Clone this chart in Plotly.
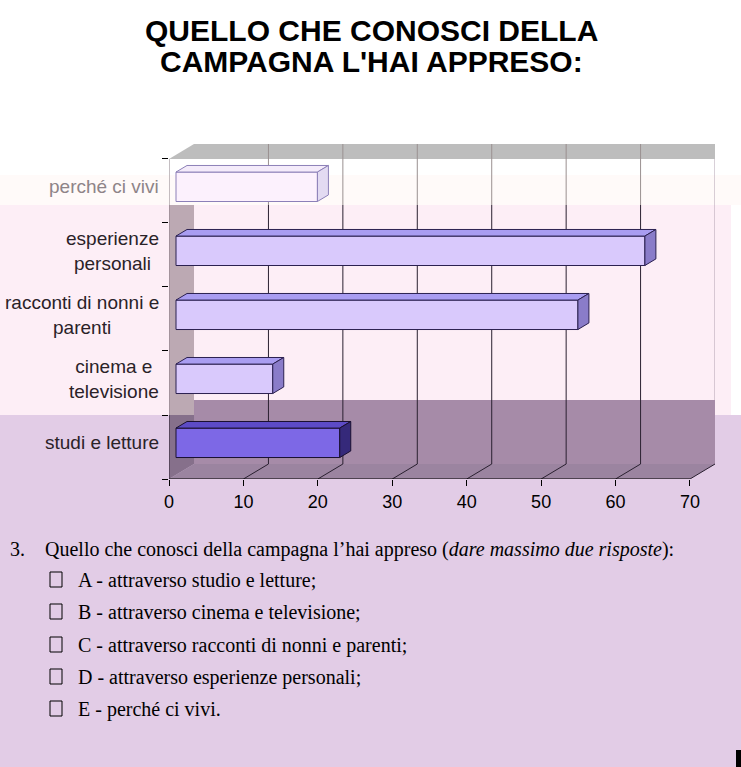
# %% Grafico: "Quello che conosci della campagna l'hai appreso"
import plotly.graph_objects as go

# %% Dati
categorie = ["studi e letture", "cinema e<br>televisione", "racconti di nonni e<br>parenti",
             "esperienze<br>personali", "perché ci vivi"]
valori = [22, 13, 54, 63, 19]
tick_x = [0, 10, 20, 30, 40, 50, 60, 70]

titolo = ["QUELLO CHE CONOSCI DELLA", "CAMPAGNA L'HAI APPRESO:"]
numero_domanda = "3."
domanda = "Quello che conosci della campagna l’hai appreso (<i>dare massimo due risposte</i>):"
risposte = ["A - attraverso studio e letture;",
            "B - attraverso cinema e televisione;",
            "C - attraverso racconti di nonni e parenti;",
            "D - attraverso esperienze personali;",
            "E - perché ci vivi."]

# %% Stile
# colori barre: (frontale, superiore, laterale, bordo)
stile_barre = [
    ("#7d68e6", "#5d4bc6", "#35297a", "#1a1030"),
    ("#d9c9fc", "#a99df1", "#8a7cc9", "#2b2050"),
    ("#d9c9fc", "#a99df1", "#8a7cc9", "#2b2050"),
    ("#d9c9fc", "#a99df1", "#8a7cc9", "#2b2050"),
    ("#fcf1fd", "#f4ebfa", "#e3dbf2", "#8c80b8"),
]
colori_etichette = ["#2a2228", "#2a2228", "#2a2228", "#2a2228", "#8e8488"]

W, H = 741, 767
L, R, T, B = 169, 715, 144, 479      # area del grafico in pixel
XMAX = tick_x[-1]
DX, DY = 3.36, 0.234                 # profondità 3D (unità dati)
F0, BD, HW = 0.28, 0.44, 0.23        # posizione/profondità/semi-altezza barre
n = len(categorie)
Y0, Y1 = -0.5, n - 0.5 + DY

def px(x):
    return (x - L) / (R - L)

def py(y):
    return (B - y) / (B - T)

def dy(p):
    # pixel verticale -> coordinata y dei dati
    return Y0 + (B - p) / (B - T) * (Y1 - Y0)

def rect_paper(x0, y0, x1, y1, colore):
    return dict(type="rect", xref="paper", yref="paper", x0=px(x0), x1=px(x1),
                y0=py(y1), y1=py(y0), fillcolor=colore, line_width=0, layer="below")

def poligono(punti, colore):
    path = "M " + " L ".join(f"{x},{y}" for x, y in punti) + " Z"
    return dict(type="path", xref="x", yref="y", path=path, fillcolor=colore,
                line_width=0, layer="below")

def linea(x0, y0, x1, y1, colore, w=1):
    return dict(type="line", xref="x", yref="y", x0=x0, y0=y0, x1=x1, y1=y1,
                line=dict(color=colore, width=w), layer="below")

# %% Figura
fig = go.Figure()

yc = [i + F0 * DY for i in range(n)]
xb = F0 * DX

# facce frontali
fig.add_trace(go.Bar(
    y=yc, x=valori, base=xb, orientation="h", width=2 * HW,
    marker=dict(color=[s[0] for s in stile_barre],
                line=dict(color=[s[3] for s in stile_barre], width=1)),
    hoverinfo="skip", showlegend=False))

# facce superiori e laterali
for i, v in enumerate(valori):
    x1 = xb + v
    yt, ybot = yc[i] + HW, yc[i] - HW
    ox, oy = BD * DX, BD * DY
    sopra = [(xb, yt), (xb + ox, yt + oy), (x1 + ox, yt + oy), (x1, yt), (xb, yt)]
    lato = [(x1, ybot), (x1, yt), (x1 + ox, yt + oy), (x1 + ox, ybot + oy), (x1, ybot)]
    for pts, col in [(sopra, stile_barre[i][1]), (lato, stile_barre[i][2])]:
        fig.add_trace(go.Scatter(
            x=[p[0] for p in pts], y=[p[1] for p in pts], mode="lines",
            fill="toself", fillcolor=col, line=dict(color=stile_barre[i][3], width=1),
            hoverinfo="skip", showlegend=False))

# sfondo e pareti
y_basso = dy(400)
y_medio = dy(205)
shapes = [
    rect_paper(0, 0, W, 175, "#ffffff"),
    rect_paper(0, 175, W, 205, "#fffaf9"),
    rect_paper(0, 205, 731, 415, "#fdeef6"),
    rect_paper(731, 205, W, 415, "#ffffff"),
    rect_paper(736, 750, W, H, "#000000"),
    # parete di fondo, pavimento, parete laterale
    poligono([(DX, Y0 + DY), (XMAX + DX, Y0 + DY), (XMAX + DX, y_basso), (DX, y_basso)], "#a68ba8"),
    poligono([(0, Y0), (XMAX, Y0), (XMAX + DX, Y0 + DY), (DX, Y0 + DY)], "#9b84a0"),
    poligono([(0, Y0), (DX, Y0 + DY), (DX, 0.5), (0, 0.5)], "#86708b"),
    poligono([(0, 0.5), (DX, 0.5), (DX, y_medio), (0, y_medio)], "#bca9b3"),
    poligono([(0, n - 0.5), (DX, Y1), (XMAX + DX, Y1), (XMAX + DX, n - 0.5)], "#bdbdbd"),
]
for t in tick_x[1:-1]:
    shapes.append(linea(t + DX, Y0 + DY, t + DX, y_medio, "#2a2030"))
    shapes.append(linea(t + DX, y_medio, t + DX, Y1, "#9a9090"))
for t in tick_x[1:]:
    shapes.append(linea(t, Y0, t + DX, Y0 + DY, "#2a2030"))
shapes += [
    linea(XMAX + DX, y_basso, XMAX + DX, n - 0.5, "#b0a0b0"),
    linea(0, Y0, XMAX, Y0, "#000000"),
    linea(0, Y0, 0, 0.5, "#2a2030"),
    linea(0, 0.5, 0, n - 0.5, "#8a7f85"),
]

# testi
annotazioni = []
for i, cat in enumerate(categorie):
    annotazioni.append(dict(
        text=cat, xref="paper", yref="y", x=0, y=yc[i], xanchor="right", yanchor="middle",
        xshift=-8, align="center", showarrow=False,
        font=dict(family="Arial, Liberation Sans", size=19, color=colori_etichette[i])))

for k, riga in enumerate(titolo):
    annotazioni.append(dict(
        text=f"<b>{riga}</b>", xref="paper", yref="paper", x=px(371), y=py([30, 61][k]),
        xanchor="center", yanchor="middle", showarrow=False,
        font=dict(family="Arial, Liberation Sans", size=30, color="#000000")))

font_serif = dict(family="Times New Roman, Liberation Serif", size=20, color="#000000")
annotazioni.append(dict(text=numero_domanda, xref="paper", yref="paper", x=px(8), y=py(549),
                        xanchor="left", yanchor="middle", showarrow=False, font=font_serif))
annotazioni.append(dict(text=domanda, xref="paper", yref="paper", x=px(43), y=py(549),
                        xanchor="left", yanchor="middle", showarrow=False, font=font_serif))
righe_y = [580, 612, 645, 677, 709]
for k, r in enumerate(risposte):
    annotazioni.append(dict(text=r, xref="paper", yref="paper", x=px(76), y=py(righe_y[k]),
                            xanchor="left", yanchor="middle", showarrow=False, font=font_serif))
    shapes.append(dict(type="rect", xref="paper", yref="paper",
                       x0=px(50), x1=px(62), y0=py(righe_y[k] + 7), y1=py(righe_y[k] - 8),
                       line=dict(color="#000000", width=1), fillcolor="rgba(0,0,0,0)"))

fig.update_layout(
    width=W, height=H, autosize=False,
    margin=dict(l=L, r=W - R, t=T, b=H - B),
    paper_bgcolor="#e2cce6", plot_bgcolor="rgba(0,0,0,0)",
    barmode="overlay", shapes=shapes, annotations=annotazioni,
    xaxis=dict(range=[0, XMAX + DX], tickvals=tick_x, ticks="outside", ticklen=6,
               tickcolor="#000000", showgrid=False, zeroline=False, showline=False,
               tickfont=dict(family="Arial, Liberation Sans", size=18, color="#000000")),
    yaxis=dict(range=[Y0, Y1], tickvals=[k - 0.5 for k in range(n + 1)],
               ticks="outside", ticklen=6, tickcolor="#000000", showticklabels=False,
               showgrid=False, zeroline=False, showline=False),
)

# margine della pagina a zero, così il grafico occupa tutta la finestra
fig.write_html("out.html", config={"displayModeBar": False},
               post_script="document.body.style.margin='0';document.body.style.overflow='hidden';")
